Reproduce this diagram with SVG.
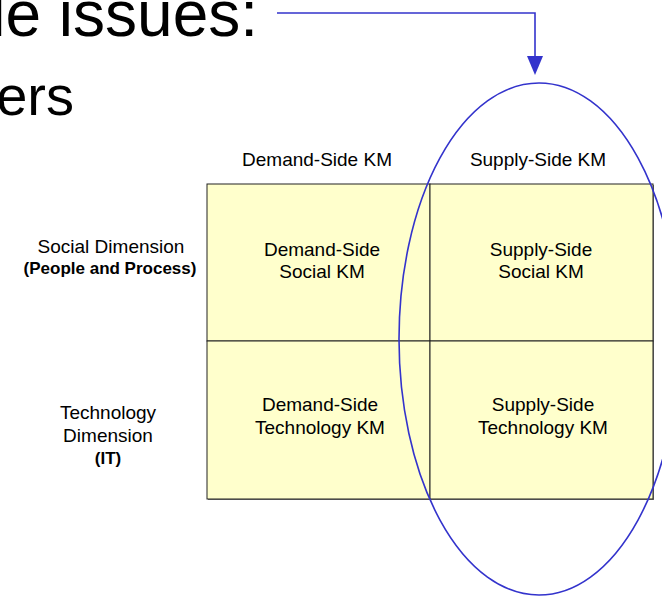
<svg xmlns="http://www.w3.org/2000/svg" width="662" height="596" viewBox="0 0 662 596">
<style>
  text { font-family: "Liberation Sans", Arial, sans-serif; fill: #000; }
  .big { font-size: 64px; }
  .mid { font-size: 56px; }
  .lbl { font-size: 19px; text-anchor: middle; }
  .bld { font-size: 17px; font-weight: bold; text-anchor: middle; }
  .cell { fill: #ffffcc; stroke: #222; stroke-width: 1; }
  .blue { fill: none; stroke: #3333cc; stroke-width: 1.6; }
  .head { fill: #3333cc; stroke: none; }
</style>
<rect width="662" height="596" fill="#fff"/>
<g id="title">
  <text class="big" x="258" y="36" text-anchor="end">le issues:</text>
  <text class="mid" x="74" y="115" text-anchor="end">ers</text>
</g>
<g id="col-headers">
  <text class="lbl" x="317" y="166">Demand-Side KM</text>
  <text class="lbl" x="538" y="166">Supply-Side KM</text>
</g>
<g id="row-headers">
  <g id="row-social">
    <text class="lbl" x="111" y="253">Social Dimension</text>
    <text class="bld" x="110" y="274">(People and Process)</text>
  </g>
  <g id="row-tech">
    <text class="lbl" x="108" y="419">Technology</text>
    <text class="lbl" x="108" y="442">Dimension</text>
    <text class="bld" x="108" y="464">(IT)</text>
  </g>
</g>
<g id="grid">
  <rect x="208" y="185" width="446" height="315" fill="#777"/>
  <g id="cell-ds-social">
    <rect class="cell" x="207" y="184" width="223" height="157"/>
    <text class="lbl" x="322" y="256">Demand-Side</text>
    <text class="lbl" x="322" y="278">Social KM</text>
  </g>
  <g id="cell-ss-social">
    <rect class="cell" x="430" y="184" width="223" height="157"/>
    <text class="lbl" x="541" y="256">Supply-Side</text>
    <text class="lbl" x="541" y="278">Social KM</text>
  </g>
  <g id="cell-ds-tech">
    <rect class="cell" x="207" y="341" width="223" height="158"/>
    <text class="lbl" x="320" y="411">Demand-Side</text>
    <text class="lbl" x="320" y="434">Technology KM</text>
  </g>
  <g id="cell-ss-tech">
    <rect class="cell" x="430" y="341" width="223" height="158"/>
    <text class="lbl" x="543" y="411">Supply-Side</text>
    <text class="lbl" x="543" y="434">Technology KM</text>
  </g>
</g>
<g id="supply-ellipse">
  <ellipse class="blue" cx="539" cy="339" rx="140" ry="256"/>
</g>
<g id="connectors">
  <path class="blue" d="M277,13 H535 V57"/>
  <polygon class="head" points="527,56 543,56 535,75"/>
</g>
</svg>
